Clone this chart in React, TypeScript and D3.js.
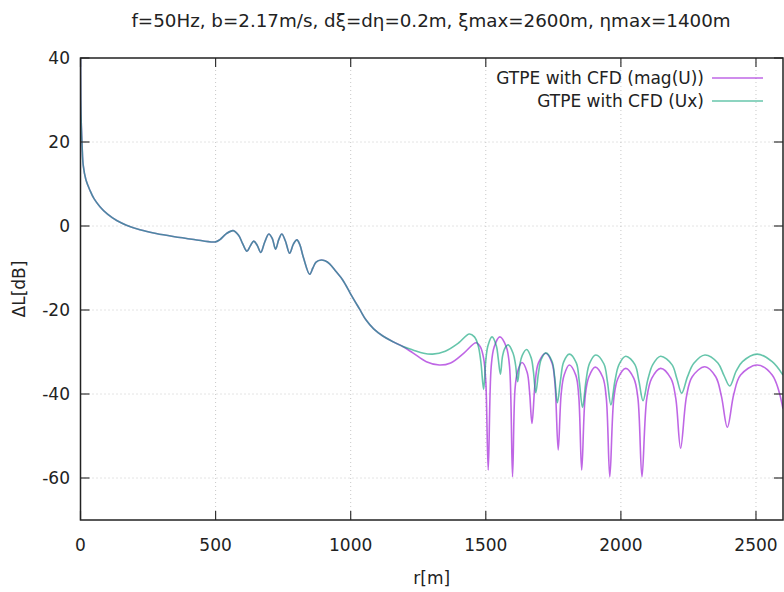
import React from "react";
import * as d3 from "d3";

// ---- data ----
const title = "f=50Hz, b=2.17m/s, dξ=dη=0.2m, ξmax=2600m, ηmax=1400m";
const xTicks = [0, 500, 1000, 1500, 2000, 2500];
const yTicks = [40, 20, 0, -20, -40, -60];
const seriesNames = ["GTPE with CFD (mag(U))", "GTPE with CFD (Ux)"];
const seriesColors = ["#9400d3", "#009e73"];

// shared part of both curves (r [m], ΔL [dB])
const commonR = [0, 1, 3, 6, 10, 20, 35, 50, 72, 100, 134, 170, 220, 280, 343, 420, 497, 515, 540, 565, 585, 600, 616, 628, 641, 654, 667, 682, 697, 710, 722, 734, 745, 758, 774, 788, 801, 812, 825, 848, 860, 872, 891, 905, 922, 945, 971, 1000, 1033, 1057, 1085, 1119, 1155, 1193];
const commonL = [45, 30, 24, 19, 14.5, 11, 8.5, 6.5, 4.6, 2.8, 1.3, 0.2, -0.9, -1.8, -2.5, -3.2, -3.8, -3.3, -1.8, -1.1, -2.2, -4.2, -6.0, -4.8, -3.6, -4.6, -6.3, -3.8, -1.9, -3.0, -5.5, -3.2, -1.9, -3.5, -6.5, -4.3, -3.3, -4.5, -7.5, -11.5, -10, -8.6, -8.1, -8.3, -9.0, -10.8, -12.9, -16.2, -19.8, -22.4, -24.5, -26.2, -27.5, -28.7];

// mag(U) tail
const magR = [1230, 1280, 1328, 1370, 1420, 1464, 1480, 1492, 1500, 1509,
  1520, 1531, 1552, 1576, 1588, 1599,
  1608, 1617, 1634, 1653, 1662, 1671,
  1683, 1695, 1722, 1745, 1756, 1768,
  1779, 1790, 1809, 1833, 1844, 1855,
  1868, 1881, 1905, 1933, 1946, 1959,
  1974, 1989, 2018, 2048, 2063, 2078,
  2096, 2114, 2147, 2185, 2203, 2221,
  2243, 2264, 2311, 2351, 2372, 2394,
  2418, 2443, 2504, 2560, 2600];
const magL = [-30.2, -32.3, -33.1, -32.6, -30.2, -27.8, -28.8, -31.5, -37, -58.1,
  -33.5, -28.8, -26.4, -28.8, -33.5, -59.7,
  -39, -34.8, -32.5, -34.8, -39.5, -47.0,
  -37, -32.6, -30.3, -32.6, -37.5, -53.3,
  -40, -35.5, -33.1, -35.5, -40.5, -58.1,
  -40.5, -36, -33.6, -36, -41, -59.7,
  -41, -36.3, -33.9, -36.3, -41, -59.7,
  -41, -36.3, -33.9, -36.3, -41, -52.9,
  -40.5, -35.9, -33.5, -35.9, -40.5, -47.9,
  -40, -35.5, -33.1, -35.5, -43.5];

// Ux tail
const uxR = [1230, 1270, 1303, 1350, 1400, 1439, 1458, 1472, 1482, 1492,
  1500, 1508, 1523, 1539, 1546, 1554,
  1562, 1570, 1583, 1601, 1610, 1618,
  1626, 1635, 1651, 1668, 1676, 1685,
  1695, 1705, 1722, 1745, 1755, 1765,
  1777, 1788, 1809, 1835, 1846, 1858,
  1871, 1884, 1907, 1937, 1950, 1963,
  1978, 1993, 2018, 2052, 2067, 2082,
  2100, 2118, 2147, 2189, 2207, 2225,
  2247, 2270, 2311, 2359, 2381, 2403,
  2427, 2450, 2504, 2560, 2600];
const uxL = [-29.5, -30.3, -30.5, -29.8, -27.8, -25.7, -26.4, -28.5, -32.5, -38.9,
  -32, -28.5, -26.4, -28.5, -31.5, -35.3,
  -31, -29.2, -28.3, -30.3, -33, -37.1,
  -33, -30.8, -29.4, -31.4, -34.5, -39.7,
  -35, -31.8, -30.2, -32.2, -36, -42.1,
  -36.5, -32.4, -30.5, -32.6, -37, -43.2,
  -36.8, -32.7, -30.7, -32.8, -37, -42.6,
  -36.9, -33, -31.0, -33, -37, -41.6,
  -36.5, -33, -31.0, -33, -36.3, -39.8,
  -35.8, -32.7, -30.7, -32.6, -35.5, -38.1,
  -34.5, -32.3, -30.5, -32.3, -35.5];

// ---- layout ----
const W = 784;
const H = 592;
const left = 80.5;
const right = 783;
const top = 58;
const bottom = 520;
const FONT = "'DejaVu Sans', sans-serif";

export default function App() {
  const x = d3.scaleLinear().domain([0, 2600]).range([left, right]);
  const y = d3.scaleLinear().domain([-70, 40]).range([bottom, top]);

  const mk = (rs: number[], ls: number[]) =>
    rs.map((r, i) => [r, ls[i]] as [number, number]);
  const common = mk(commonR, commonL);
  const series = [
    common.concat(mk(magR, magL)),
    common.concat(mk(uxR, uxL)),
  ];

  const line = d3
    .line<[number, number]>()
    .x((d) => x(d[0]))
    .y((d) => y(d[1]))
    .curve(d3.curveCatmullRom.alpha(0.5));

  const tickLen = 9;

  return (
    <svg
      width={W}
      height={H}
      style={{ position: "absolute", left: 0, top: 0, background: "#fff" }}
      fontFamily={FONT}
    >
      <defs>
        <clipPath id="plotclip">
          <rect x={left} y={top} width={right - left} height={bottom - top} />
        </clipPath>
      </defs>
      <rect x={0} y={0} width={W} height={H} fill="#fff" />
      {/* grid */}
      <g stroke="#c8c8c8" strokeWidth={1} strokeDasharray="1,3">
        {xTicks
          .filter((t) => t > 0)
          .map((t) => (
            <line key={"gx" + t} x1={x(t)} x2={x(t)} y1={top} y2={bottom} />
          ))}
        {yTicks
          .filter((t) => t < 40)
          .map((t) => (
            <line key={"gy" + t} x1={left} x2={right} y1={y(t)} y2={y(t)} />
          ))}
      </g>
      {/* curves */}
      <g clipPath="url(#plotclip)" fill="none" strokeWidth={1.6} strokeOpacity={0.6}>
        {series.map((s, i) => (
          <path key={i} d={line(s) || ""} stroke={seriesColors[i]} />
        ))}
      </g>
      {/* ticks */}
      <g stroke="#333" strokeWidth={1.2}>
        {xTicks.map((t) => (
          <g key={"tx" + t}>
            <line x1={x(t)} x2={x(t)} y1={bottom} y2={bottom - tickLen} />
            <line x1={x(t)} x2={x(t)} y1={top} y2={top + tickLen} />
          </g>
        ))}
        {yTicks.map((t) => (
          <g key={"ty" + t}>
            <line x1={left} x2={left + tickLen} y1={y(t)} y2={y(t)} />
            <line x1={right} x2={right - tickLen} y1={y(t)} y2={y(t)} />
          </g>
        ))}
      </g>
      {/* frame */}
      <rect
        x={left}
        y={top}
        width={right - left}
        height={bottom - top}
        fill="none"
        stroke="#222"
        strokeWidth={1.5}
      />
      {/* tick labels */}
      <g fontSize={17} fill="#222">
        {xTicks.map((t) => (
          <text key={"lx" + t} x={x(t)} y={551} textAnchor="middle">
            {t}
          </text>
        ))}
        {yTicks.map((t) => (
          <text key={"ly" + t} x={70} y={y(t) + 6} textAnchor="end">
            {t}
          </text>
        ))}
      </g>
      {/* axis labels */}
      <text x={(left + right) / 2} y={584} textAnchor="middle" fontSize={17} fill="#222">
        r[m]
      </text>
      <text
        transform={`translate(25, ${(top + bottom) / 2}) rotate(-90)`}
        textAnchor="middle"
        fontSize={17}
        fill="#222"
      >
        ΔL[dB]
      </text>
      {/* title */}
      <text x={431} y={27} textAnchor="middle" fontSize={18.3} fill="#222">
        {title}
      </text>
      {/* legend */}
      {seriesNames.map((n, i) => (
        <g key={"lg" + i}>
          <text x={704} y={84 + i * 23} textAnchor="end" fontSize={17} fill="#222">
            {n}
          </text>
          <line
            x1={712}
            x2={763}
            y1={78 + i * 23}
            y2={78 + i * 23}
            stroke={seriesColors[i]}
            strokeOpacity={0.6}
            strokeWidth={1.6}
          />
        </g>
      ))}
    </svg>
  );
}
